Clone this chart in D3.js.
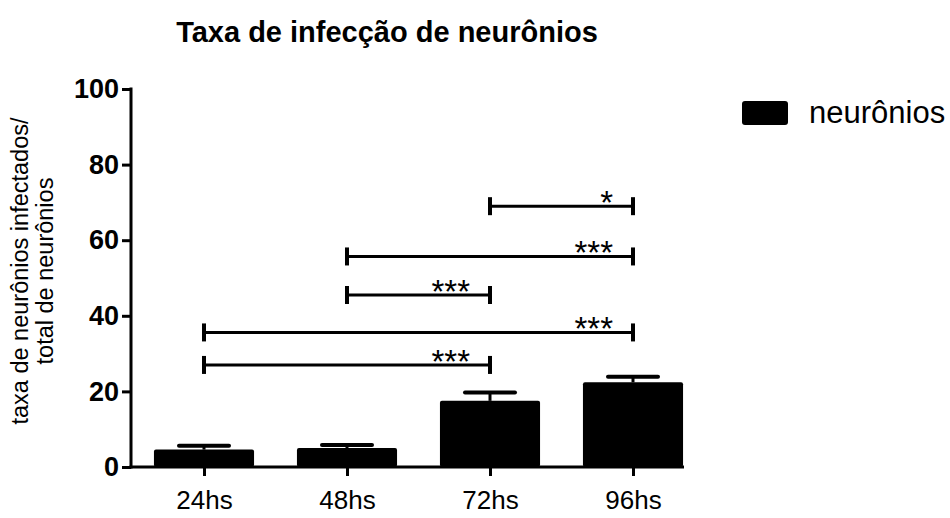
<!DOCTYPE html>
<html>
<head>
<meta charset="utf-8">
<script src="https://cdn.jsdelivr.net/npm/d3@7"></script>
<style>
  html, body { margin: 0; padding: 0; background: #fff; }
  svg { display: block; font-family: "Liberation Sans", Arial, sans-serif; }
</style>
</head>
<body>
<svg id="chart" width="950" height="518"></svg>
<script>
// Infection rate of neurons over time (mean + SEM)
const categories = ["24hs", "48hs", "72hs", "96hs"];
const means = [4.6, 5.0, 17.5, 22.4];
const errors = [1.0, 0.8, 2.2, 1.5];
const yTicks = [0, 20, 40, 60, 80, 100];

// Pairwise comparisons: start group, end group, bracket height (y units), marker
const compFrom = ["72hs", "48hs", "48hs", "24hs", "24hs"];
const compTo = ["96hs", "96hs", "72hs", "96hs", "72hs"];
const compLevel = [69, 55.7, 45.5, 35.6, 27];
const compLabel = ["*", "***", "***", "***", "***"];

const seriesName = "neurônios";
const title = "Taxa de infecção de neurônios";
const yTitle = ["taxa de neurônios infectados/", "total de neurônios"];

const svg = d3.select("#chart");

const y = d3.scaleLinear().domain([0, 100]).range([467, 89]);
const x = d3.scaleBand().domain(categories)
  .range([132.5, 704.5]).paddingInner(0.3).paddingOuter(0.15);
const axisX0 = 131, axisX1 = 684;

// Title
svg.append("text")
  .attr("x", 387).attr("y", 42)
  .attr("text-anchor", "middle")
  .attr("font-weight", "bold").attr("font-size", 29)
  .text(title);

// Bars
svg.append("g").selectAll("rect")
  .data(categories)
  .join("rect")
  .attr("x", d => x(d))
  .attr("width", x.bandwidth())
  .attr("y", (d, i) => y(means[i]))
  .attr("height", (d, i) => y(0) - y(means[i]))
  .attr("rx", 2)
  .attr("fill", "#000");

// Upper error bars
const eb = svg.append("g").attr("stroke", "#000");
categories.forEach((c, i) => {
  const cx = x(c) + x.bandwidth() / 2;
  eb.append("line")
    .attr("x1", cx).attr("x2", cx)
    .attr("y1", y(means[i])).attr("y2", y(means[i] + errors[i]))
    .attr("stroke-width", 3);
  eb.append("line")
    .attr("x1", cx - 25).attr("x2", cx + 25)
    .attr("y1", y(means[i] + errors[i])).attr("y2", y(means[i] + errors[i]))
    .attr("stroke-width", 4).attr("stroke-linecap", "round");
});

// Y axis
const yAxis = svg.append("g")
  .attr("transform", `translate(${axisX0},0)`)
  .call(d3.axisLeft(y).tickValues(yTicks).tickSize(9).tickSizeOuter(0).tickPadding(3));
yAxis.select(".domain").attr("stroke-width", 3).attr("d", `M0,${y(0) + 1.5}V${y(100) - 1.5}`);
yAxis.selectAll(".tick line").attr("stroke-width", 3);
yAxis.selectAll(".tick text")
  .attr("font-size", 27).attr("font-weight", "bold")
  .attr("font-family", "'Liberation Sans', Arial, sans-serif")
  .attr("fill", "#000");

// X axis
const xCenter = d3.scalePoint().domain(categories)
  .range([x(categories[0]) + x.bandwidth() / 2, x(categories[3]) + x.bandwidth() / 2]);
const xAxis = svg.append("g")
  .attr("transform", `translate(0,${y(0)})`)
  .call(d3.axisBottom(xCenter).tickSize(9).tickSizeOuter(0).tickPadding(15));
xAxis.select(".domain").attr("stroke-width", 3).attr("d", `M${axisX0 - 1.5},0H${axisX1}`);
xAxis.selectAll(".tick line").attr("stroke-width", 3);
xAxis.selectAll(".tick text")
  .attr("font-size", 26)
  .attr("font-family", "'Liberation Sans', Arial, sans-serif")
  .attr("fill", "#000");

// Y axis title
const yt = svg.append("text")
  .attr("transform", "translate(28,271) rotate(-90)")
  .attr("text-anchor", "middle")
  .attr("font-size", 23.5);
yt.selectAll("tspan").data(yTitle).join("tspan")
  .attr("x", 0).attr("dy", (d, i) => i === 0 ? 0 : 25)
  .text(d => d);

// Significance brackets
const br = svg.append("g");
compFrom.forEach((f, i) => {
  const x1 = xCenter(f), x2 = xCenter(compTo[i]), yy = y(compLevel[i]);
  br.append("line").attr("x1", x1).attr("x2", x2).attr("y1", yy).attr("y2", yy)
    .attr("stroke", "#000").attr("stroke-width", 3);
  [x1, x2].forEach(xx => br.append("line")
    .attr("x1", xx).attr("x2", xx).attr("y1", yy - 9).attr("y2", yy + 9)
    .attr("stroke", "#000").attr("stroke-width", 4));
  br.append("text")
    .attr("x", x2 - 20).attr("y", yy + 8)
    .attr("text-anchor", "end")
    .attr("font-size", 33)
    .text(compLabel[i]);
});

// Legend
const lg = svg.append("g").attr("transform", "translate(742,101)");
lg.append("rect").attr("width", 46).attr("height", 24).attr("rx", 3).attr("fill", "#000");
lg.append("text").attr("x", 67).attr("y", 22).attr("font-size", 31).text(seriesName);
</script>
</body>
</html>
